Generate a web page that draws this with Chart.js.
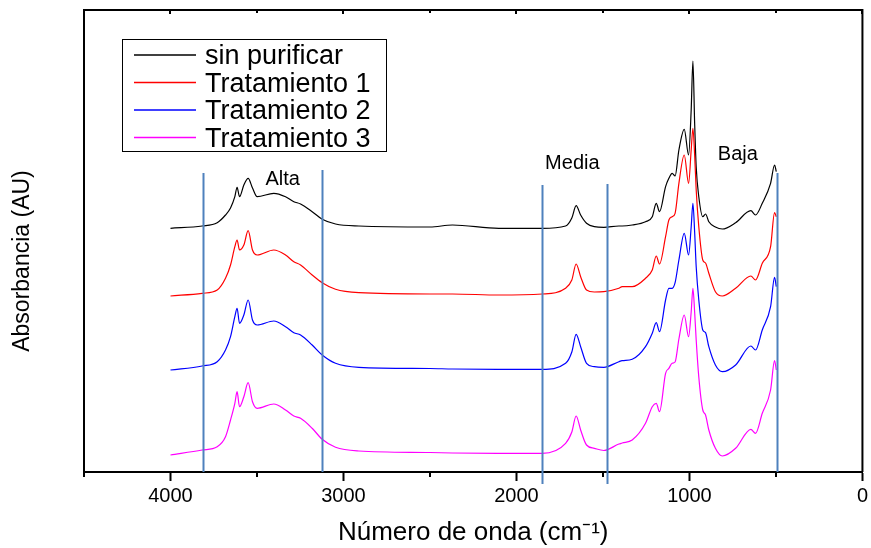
<!DOCTYPE html>
<html><head><meta charset="utf-8">
<script src="https://cdn.jsdelivr.net/npm/chart.js@4"></script>
<style>html,body{margin:0;padding:0;background:#fff}#wrap{width:871px;height:548px}</style>
</head><body><div id="wrap"><canvas id="c" width="871" height="548"></canvas></div>
<script>
const wavenumbers = [4000,3817,3730,3682,3653,3628,3615,3601,3576,3551,3526,3499,3403,3335,3287,3248,3181,3123,3046,2911,2500,2370,2102,1851,1716,1680,1655,1629,1595,1550,1495,1408,1389,1331,1254,1215,1192,1173,1138,1119,1100,1083,1061,1030,1005,990,980,970,961,946,923,907,888,850,810,733,645,618,579,531,508,498];
const sinPurificar = [2.437,2.46,2.493,2.57,2.64,2.753,2.847,2.753,2.87,2.937,2.84,2.753,2.787,2.753,2.703,2.68,2.603,2.527,2.48,2.46,2.45,2.47,2.437,2.437,2.46,2.54,2.663,2.57,2.487,2.453,2.447,2.46,2.46,2.47,2.503,2.553,2.687,2.603,2.853,2.937,2.987,2.96,3.22,3.427,3.17,3.62,4.11,3.49,3.05,2.753,2.553,2.58,2.503,2.45,2.43,2.493,2.613,2.57,2.687,2.887,3.07,3.003];
const tratamiento1 = [1.76,1.787,1.82,1.937,2.07,2.253,2.32,2.22,2.27,2.413,2.22,2.17,2.22,2.17,2.103,2.07,1.97,1.893,1.827,1.793,1.78,1.78,1.77,1.78,1.837,1.92,2.08,1.953,1.82,1.80,1.803,1.837,1.853,1.853,1.937,2.02,2.16,2.08,2.353,2.52,2.553,2.587,2.887,3.17,2.887,3.22,3.437,3.17,2.82,2.453,2.12,2.09,1.987,1.803,1.76,1.837,1.96,1.92,2.087,2.253,2.593,2.553];
const tratamiento2 = [1.02,1.06,1.103,1.22,1.353,1.553,1.637,1.487,1.57,1.72,1.52,1.47,1.51,1.453,1.393,1.37,1.27,1.17,1.087,1.047,1.035,1.03,1.027,1.027,1.087,1.2,1.377,1.253,1.087,1.053,1.047,1.103,1.113,1.127,1.253,1.387,1.493,1.403,1.72,1.837,1.837,1.893,2.12,2.387,2.17,2.45,2.687,2.4,2.053,1.72,1.42,1.393,1.253,1.07,1.003,1.07,1.26,1.22,1.42,1.653,1.947,1.853];
const tratamiento3 = [0.17,0.22,0.253,0.353,0.52,0.687,0.803,0.653,0.753,0.893,0.703,0.637,0.68,0.62,0.56,0.537,0.437,0.327,0.247,0.21,0.195,0.19,0.187,0.187,0.287,0.4,0.56,0.42,0.27,0.237,0.215,0.28,0.29,0.32,0.487,0.653,0.687,0.603,0.987,1.037,1.087,1.10,1.33,1.57,1.353,1.6,1.837,1.6,1.32,0.95,0.62,0.57,0.42,0.237,0.16,0.237,0.427,0.387,0.587,0.82,1.113,1.02];
const seriesLabels = ['sin purificar','Tratamiento 1','Tratamiento 2','Tratamiento 3'];
const seriesColors = ['#000000','#ff0000','#0000ff','#ff00ff'];
const xTickLabels = [4000,3000,2000,1000,0];
const regionBoundaries = [3810,3125,1850,1478,493];
const regionBoundaryTops = [2.99,3.02,2.87,2.88,2.99];
const regionNames = ['Alta','Media','Baja'];
const regionNameX = [3351,1677,720];
const regionNameY = [2.93,3.09,3.18];

const FONT = "'Liberation Sans', Arial, sans-serif";
const allSeries = [sinPurificar, tratamiento1, tratamiento2, tratamiento3];

const datasets = allSeries.map((arr, i) => ({
  label: seriesLabels[i],
  data: wavenumbers.map((w, k) => ({x: w, y: arr[k]})),
  borderColor: seriesColors[i],
  backgroundColor: seriesColors[i],
  borderWidth: 1.2,
  pointRadius: 0,
  fill: false,
  cubicInterpolationMode: 'monotone',
  order: allSeries.length - i
}));

const decorPlugin = {
  id: 'decor',
  afterDatasetsDraw(chart) {
    const ctx = chart.ctx, xs = chart.scales.x, ys = chart.scales.y, a = chart.chartArea;
    ctx.save();
    ctx.strokeStyle = '#4f81bd';
    ctx.lineWidth = 2;
    regionBoundaries.forEach((w, i) => {
      const px = Math.round(xs.getPixelForValue(w)) + 0.5;
      const top = ys.getPixelForValue(regionBoundaryTops[i]);
      const bottom = (i === 2 || i === 3) ? a.bottom + 12 : a.bottom;
      ctx.beginPath(); ctx.moveTo(px, top); ctx.lineTo(px, bottom); ctx.stroke();
    });
    ctx.fillStyle = '#000';
    ctx.font = '20px ' + FONT;
    ctx.textAlign = 'center';
    ctx.textBaseline = 'middle';
    regionNames.forEach((t, i) => {
      ctx.fillText(t, xs.getPixelForValue(regionNameX[i]), ys.getPixelForValue(regionNameY[i]));
    });
    ctx.restore();
  },
  afterDraw(chart) {
    const ctx = chart.ctx, xs = chart.scales.x, a = chart.chartArea;
    ctx.save();
    ctx.strokeStyle = '#000';
    ctx.lineWidth = 2;
    ctx.beginPath();
    ctx.moveTo(a.left, a.top); ctx.lineTo(a.right, a.top); ctx.lineTo(a.right, a.bottom);
    ctx.stroke();
    xs.ticks.forEach(t => {
      const px = Math.round(xs.getPixelForValue(t.value));
      const major = t.value % 1000 === 0;
      if (!major) {
        ctx.beginPath(); ctx.moveTo(px, a.bottom); ctx.lineTo(px, a.bottom + 5); ctx.stroke();
      }
      ctx.beginPath(); ctx.moveTo(px, a.top); ctx.lineTo(px, a.top + (major ? 4 : 3)); ctx.stroke();
    });
    const bx = 122, by = 39, bw = 264, bh = 112;
    ctx.lineWidth = 1;
    ctx.strokeStyle = '#000';
    ctx.strokeRect(bx + 0.5, by + 0.5, bw, bh);
    ctx.font = '27px ' + FONT;
    ctx.textAlign = 'left';
    ctx.textBaseline = 'alphabetic';
    chart.data.datasets.forEach((ds, i) => {
      const ry = 55 + i * 27.5;
      ctx.strokeStyle = ds.borderColor;
      ctx.lineWidth = 1.3;
      ctx.beginPath(); ctx.moveTo(134, ry); ctx.lineTo(196, ry); ctx.stroke();
      ctx.fillStyle = '#000';
      ctx.fillText(ds.label, 205, ry + 9);
    });
    ctx.save();
    ctx.translate(23, 261);
    ctx.rotate(-Math.PI / 2);
    ctx.font = '23px ' + FONT;
    ctx.textAlign = 'center';
    ctx.textBaseline = 'middle';
    ctx.fillStyle = '#000';
    ctx.fillText('Absorbancia (AU)', 0, 0);
    ctx.restore();
    ctx.restore();
  }
};

new Chart(document.getElementById('c'), {
  type: 'line',
  data: { datasets },
  options: {
    responsive: false,
    animation: false,
    devicePixelRatio: 1,
    layout: { padding: { top: 10, right: 7, left: 0, bottom: 0 } },
    plugins: { legend: { display: false }, tooltip: { enabled: false } },
    scales: {
      x: {
        type: 'linear', reverse: true, min: 0, max: 4500,
        afterFit(s) { s.height = 76; },
        ticks: {
          stepSize: 500, autoSkip: false, maxRotation: 0, color: '#000', padding: 3,
          font: { family: FONT, size: 20 },
          callback: v => xTickLabels.includes(v) ? String(v) : ''
        },
        grid: {
          drawOnChartArea: false, drawTicks: true, tickLength: 9, tickWidth: 2,
          tickColor: c => (c.tick && c.tick.value % 1000 === 0) ? '#000' : 'rgba(0,0,0,0)'
        },
        border: { display: true, color: '#000', width: 2 },
        title: {
          display: true, text: 'Número de onda (cm⁻¹)', color: '#000',
          font: { family: FONT, size: 26 }, padding: { top: 0, bottom: 0 }
        }
      },
      y: {
        min: 0, max: 4.62,
        afterFit(s) { s.width = 84; },
        ticks: { display: false },
        grid: { display: false },
        border: { display: true, color: '#000', width: 2 }
      }
    }
  },
  plugins: [decorPlugin]
});
</script>
</body></html>
